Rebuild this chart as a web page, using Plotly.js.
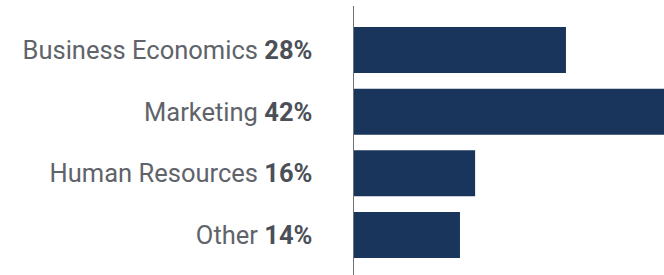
<!DOCTYPE html>
<html>
<head>
<meta charset="utf-8">
<script src="https://cdn.plot.ly/plotly-3.0.1.min.js"></script>
<style>html,body{margin:0;padding:0;background:#fff;}#chart{width:664px;height:275px;}</style>
</head>
<body>
<div id="chart"></div>
<script>
var categories = ["Business Economics", "Marketing", "Human Resources", "Other"];
var shares = [28, 42, 16, 14];
var positions = [0, 1, 2, 3];
var tickLabels = categories.map(function (c, i) {
  return c + ' <span style="font-weight:bold;color:#4b5058">' + shares[i] + '%</span>';
});

var trace = {
  type: 'bar',
  orientation: 'h',
  x: shares,
  y: positions,
  width: 0.745,
  marker: { color: '#19355b' },
  hoverinfo: 'skip'
};

var layout = {
  width: 664,
  height: 275,
  margin: { l: 354, r: 0, t: 6, b: 0, pad: 0 },
  paper_bgcolor: '#ffffff',
  plot_bgcolor: '#ffffff',
  showlegend: false,
  xaxis: {
    range: [0, 40.95],
    showgrid: false,
    zeroline: false,
    showline: false,
    showticklabels: false,
    ticks: ''
  },
  yaxis: {
    range: [3.648, -0.713],
    tickmode: 'array',
    tickvals: positions,
    ticktext: tickLabels,
    showgrid: false,
    zeroline: false,
    showline: true,
    linecolor: '#6e7278',
    linewidth: 1.5,
    ticks: '',
    ticklabelstandoff: 35,
    tickfont: { family: 'Roboto, sans-serif', size: 25.5, color: '#5f636a' }
  }
};

Plotly.newPlot('chart', [trace], layout, { staticPlot: true, displayModeBar: false });
</script>
</body>
</html>
